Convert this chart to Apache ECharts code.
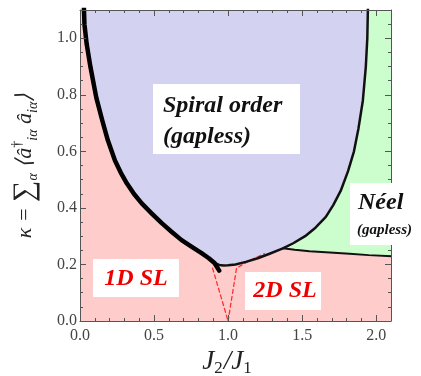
<!DOCTYPE html>
<html>
<head>
<meta charset="utf-8">
<script src="https://cdn.jsdelivr.net/npm/echarts@6/dist/echarts.min.js"></script>
<style>
  html, body { margin: 0; padding: 0; background: #fff; }
  #chart { width: 421px; height: 376px; }
</style>
</head>
<body>
<div id="chart"></div>
<script>
const xMax = 2.1
const yMax = 1.1

// thick left boundary of the spiral phase (J2/J1, kappa)
const spiralLeft = [
  [0.025, 1.13], [0.03, 1.05], [0.045, 0.98], [0.07, 0.9], [0.11, 0.79],
  [0.15, 0.71], [0.188, 0.639], [0.236, 0.568], [0.275, 0.525], [0.316, 0.487],
  [0.365, 0.449], [0.417, 0.416], [0.485, 0.38], [0.552, 0.346], [0.62, 0.315],
  [0.686, 0.286], [0.755, 0.262], [0.821, 0.24], [0.87, 0.222], [0.908, 0.205],
  [0.94, 0.178],
]
// thin outline: bottom and right side of the spiral phase
const spiralEdge = [
  [0.905, 0.206], [0.94, 0.198], [0.97, 0.196], [1.0, 0.197], [1.05, 0.2],
  [1.12, 0.209], [1.2, 0.222], [1.28, 0.238], [1.37, 0.257], [1.44, 0.275],
  [1.52, 0.3], [1.59, 0.33], [1.66, 0.368], [1.71, 0.41], [1.76, 0.46],
  [1.81, 0.53], [1.85, 0.6], [1.88, 0.68], [1.91, 0.78], [1.93, 0.9],
  [1.94, 1.0], [1.945, 1.13],
]
// Neel boundary
const neelLine = [
  [1.37, 0.257], [1.45, 0.252], [1.55, 0.247], [1.66, 0.243], [1.82, 0.238],
  [1.95, 0.233], [2.12, 0.229],
]
const dashLeft = [[0.895, 0.187], [1.0, 0.0]]
const dashRight = [[1.0, 0.0], [1.057, 0.187], [1.15, 0.215], [1.245, 0.238]]

const wholePlane = [[-0.1, -0.1], [2.2, -0.1], [2.2, 1.2], [-0.1, 1.2]]
const spiralPoly = spiralLeft.slice(0, -2).concat(spiralEdge)
const neelPoly = spiralEdge.filter((p) => p[0] >= neelLine[0][0])
  .concat([[2.2, 1.2], [2.2, 0.229]])
  .concat(neelLine.slice().reverse())

const chart = echarts.init(document.getElementById('chart'))

const polygon = (points, color, z) => ({
  type: 'custom',
  coordinateSystem: 'cartesian2d',
  clip: true,
  silent: true,
  z: z,
  data: points,
  renderItem: (params, api) => {
    if (params.dataIndex !== 0) return
    return {
      type: 'polygon',
      shape: { points: points.map((p) => api.coord(p)) },
      style: { fill: color },
    }
  },
})

const curve = (points, color, width, type) => ({
  type: 'line',
  data: points,
  symbol: 'none',
  silent: true,
  clip: true,
  z: 5,
  lineStyle: { color: color, width: width, type: type || 'solid', cap: 'round', join: 'round' },
})

const serif = 'Liberation Serif'
const frameColor = '#555'

const frameAxis = (pos, max, major, minorSplit, extra) => Object.assign({
  type: 'value', position: pos, min: 0, max: max, interval: major, z: 10,
  axisLine: { show: true, onZero: false, lineStyle: { color: frameColor, width: 1 } },
  axisTick: { show: true, inside: true, length: 6, lineStyle: { color: frameColor } },
  minorTick: { show: true, splitNumber: minorSplit, length: 3, lineStyle: { color: frameColor } },
  axisLabel: { show: false },
  splitLine: { show: false },
}, extra || {})

const tickLabel = {
  show: true,
  showMaxLabel: false,
  color: '#444',
  fontFamily: serif,
  fontSize: 16,
  formatter: (v) => v.toFixed(1),
}

chart.setOption({
  animation: false,
  grid: {
    left: 80, right: 30, top: 10, bottom: 55,
    outerBoundsMode: 'none',
    containLabel: false,
  },
  xAxis: [
    frameAxis('bottom', xMax, 0.5, 5, {
      axisLabel: Object.assign({}, tickLabel, { margin: 7 }),
      name: '{j|J}{s|2}{j|/J}{s|1}',
      nameLocation: 'middle',
      nameGap: 25,
      nameTextStyle: {
        padding: [0, 16, 0, 0],
        rich: {
          j: { fontFamily: serif, fontStyle: 'italic', fontSize: 27, color: '#222', lineHeight: 30, verticalAlign: 'middle' },
          s: { fontFamily: serif, fontSize: 17, color: '#222', lineHeight: 30, verticalAlign: 'bottom', padding: [0, 1, 0, 0] },
        },
      },
    }),
    frameAxis('top', xMax, 0.5, 5),
  ],
  yAxis: [
    frameAxis('left', yMax, 0.2, 4, {
      axisLabel: Object.assign({}, tickLabel, { margin: 3 }),
      name: '{m|κ = }{b|∑}{s|α}{m| ⟨â}{u|†}{s|iα}{m| â}{s|iα}{m|⟩}',
      nameLocation: 'middle',
      nameGap: 40,
      nameTextStyle: {
        rich: {
          m: { fontFamily: serif, fontStyle: 'italic', fontSize: 22, color: '#222', lineHeight: 30, verticalAlign: 'middle' },
          b: { fontFamily: serif, fontSize: 30, color: '#222', lineHeight: 30, verticalAlign: 'middle' },
          s: { fontFamily: serif, fontStyle: 'italic', fontSize: 14, color: '#222', lineHeight: 30, verticalAlign: 'bottom' },
          u: { fontFamily: serif, fontSize: 14, color: '#222', lineHeight: 30, verticalAlign: 'top' },
        },
      },
    }),
    frameAxis('right', yMax, 0.2, 4),
  ],
  series: [
    polygon(wholePlane, '#ffcccc', 1),
    polygon(neelPoly, '#ccfdcc', 2),
    polygon(spiralPoly, '#d4d2f1', 3),
    curve(dashLeft, '#ff3030', 1.3, [4, 3]),
    curve(dashRight, '#ff3030', 1.3, [4, 3]),
    curve(neelLine, '#111', 2),
    curve(spiralEdge, '#111', 2.5),
    curve(spiralLeft, '#000', 4.5),
  ],
  graphic: [
    { type: 'rect', z: 100, shape: { x: 153, y: 84, width: 147, height: 70 }, style: { fill: '#fff' } },
    { type: 'text', z: 101, x: 163, y: 106, style: { text: 'Spiral order', font: 'italic bold 24px ' + serif, fill: '#111', verticalAlign: 'middle' } },
    { type: 'text', z: 101, x: 163, y: 137, style: { text: '(gapless)', font: 'italic bold 24px ' + serif, fill: '#111', verticalAlign: 'middle' } },

    { type: 'rect', z: 100, shape: { x: 350, y: 183, width: 71, height: 62 }, style: { fill: '#fff' } },
    { type: 'text', z: 101, x: 358, y: 203, style: { text: 'Néel', font: 'italic bold 24px ' + serif, fill: '#111', verticalAlign: 'middle' } },
    { type: 'text', z: 101, x: 357, y: 230, style: { text: '(gapless)', font: 'italic bold 15px ' + serif, fill: '#111', verticalAlign: 'middle' } },

    { type: 'rect', z: 100, shape: { x: 93, y: 259, width: 86, height: 38 }, style: { fill: '#fff' } },
    { type: 'text', z: 101, x: 136, y: 279, style: { text: '1D SL', font: 'italic bold 24px ' + serif, fill: '#ee0000', align: 'center', verticalAlign: 'middle' } },

    { type: 'rect', z: 100, shape: { x: 245, y: 272, width: 76, height: 38 }, style: { fill: '#fff' } },
    { type: 'text', z: 101, x: 285, y: 291, style: { text: '2D SL', font: 'italic bold 24px ' + serif, fill: '#ee0000', align: 'center', verticalAlign: 'middle' } },
  ],
})
</script>
</body>
</html>
